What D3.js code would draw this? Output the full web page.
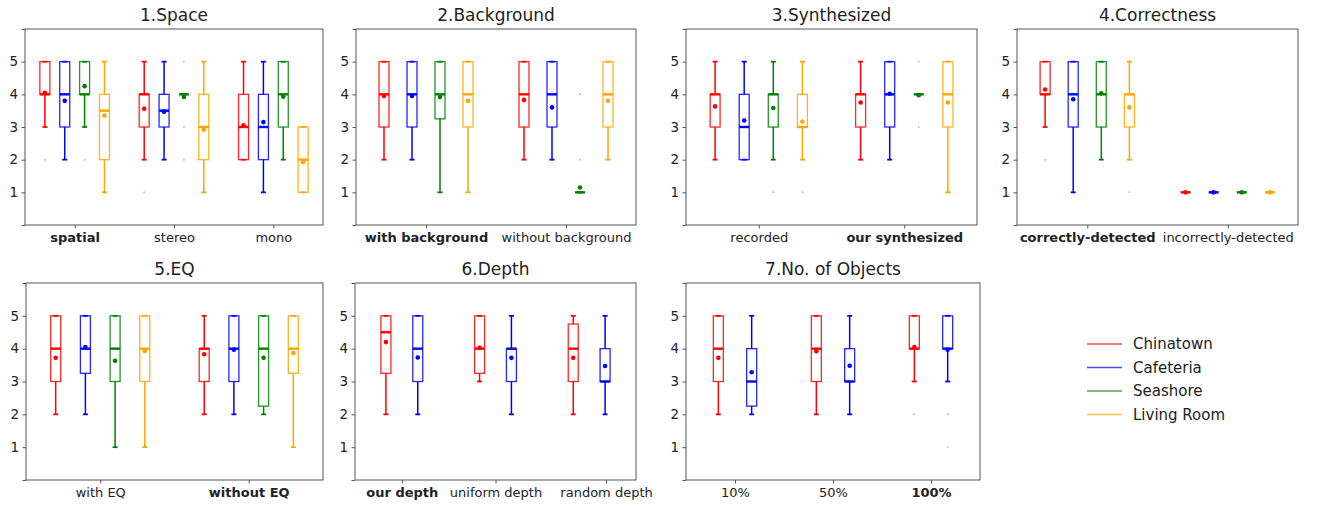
<!DOCTYPE html>
<html lang="en">
<head>
<meta charset="UTF-8">
<script src="https://d3js.org/d3.v7.min.js"></script>
<style>
  body { margin: 0; background: #fff; }
  svg { font-family: "DejaVu Sans", sans-serif; }
</style>
</head>
<body>
<svg id="chart" width="1323" height="506"></svg>
<script>
// series and colours
const seriesNames = ["Chinatown", "Cafeteria", "Seashore", "Living Room"];
const seriesColors = ["#ff0000", "#0000ff", "#008000", "#ffa500"];
const yTicks = [0, 1, 2, 3, 4, 5, 6];
const yTickLabels = ["", "1", "2", "3", "4", "5", ""];

// rows: [category, series, whiskerLow, q1, median, q3, whiskerHigh, mean, fliers]
const spaceCats = ["spatial", "stereo", "mono"];
const spaceStats = [
  [0, 0, 3, 4, 4, 5, 5, 4.05, [2]],
  [0, 1, 2, 3, 4, 5, 5, 3.8, []],
  [0, 2, 3, 4, 4, 5, 5, 4.25, [2]],
  [0, 3, 1, 2, 3.5, 4, 5, 3.35, []],
  [1, 0, 2, 3, 4, 4, 5, 3.56, [1]],
  [1, 1, 2, 3, 3.5, 4, 5, 3.47, []],
  [1, 2, 4, 4, 4, 4, 4, 3.92, [5, 3, 2]],
  [1, 3, 1, 2, 3, 4, 5, 2.92, []],
  [2, 0, 2, 2, 3, 4, 5, 3.05, []],
  [2, 1, 1, 2, 3, 4, 5, 3.15, []],
  [2, 2, 2, 3, 4, 5, 5, 3.93, []],
  [2, 3, 1, 1, 2, 3, 3, 1.93, []]
];

const backgroundCats = ["with background", "without background"];
const backgroundStats = [
  [0, 0, 2, 3, 4, 5, 5, 3.95, []],
  [0, 1, 2, 3, 4, 5, 5, 3.95, []],
  [0, 2, 1, 3.25, 4, 5, 5, 3.92, []],
  [0, 3, 1, 3, 4, 5, 5, 3.8, []],
  [1, 0, 2, 3, 4, 5, 5, 3.83, []],
  [1, 1, 2, 3, 4, 5, 5, 3.6, []],
  [1, 2, 1, 1, 1, 1, 1, 1.15, [2, 4]],
  [1, 3, 2, 3, 4, 5, 5, 3.8, []]
];

const synthCats = ["recorded", "our synthesized"];
const synthStats = [
  [0, 0, 2, 3, 4, 4, 5, 3.63, []],
  [0, 1, 2, 2, 3, 4, 5, 3.2, []],
  [0, 2, 2, 3, 4, 4, 5, 3.58, [1]],
  [0, 3, 2, 3, 3, 4, 5, 3.17, [1]],
  [1, 0, 2, 3, 4, 4, 5, 3.75, []],
  [1, 1, 2, 3, 4, 5, 5, 4.02, []],
  [1, 2, 4, 4, 4, 4, 4, 3.97, [5, 3]],
  [1, 3, 1, 3, 4, 5, 5, 3.75, []]
];

const correctCats = ["correctly-detected", "incorrectly-detected"];
const correctStats = [
  [0, 0, 3, 4, 4, 5, 5, 4.15, [2]],
  [0, 1, 1, 3, 4, 5, 5, 3.85, []],
  [0, 2, 2, 3, 4, 5, 5, 4.03, []],
  [0, 3, 2, 3, 4, 4, 5, 3.6, [1]],
  [1, 0, 1, 1, 1, 1, 1, 1, []],
  [1, 1, 1, 1, 1, 1, 1, 1, []],
  [1, 2, 1, 1, 1, 1, 1, 1, []],
  [1, 3, 1, 1, 1, 1, 1, 1, []]
];

const eqCats = ["with EQ", "without EQ"];
const eqStats = [
  [0, 0, 2, 3, 4, 5, 5, 3.72, []],
  [0, 1, 2, 3.25, 4, 5, 5, 4.05, []],
  [0, 2, 1, 3, 4, 5, 5, 3.63, []],
  [0, 3, 1, 3, 4, 5, 5, 3.93, []],
  [1, 0, 2, 3, 4, 4, 5, 3.83, []],
  [1, 1, 2, 3, 4, 5, 5, 3.97, []],
  [1, 2, 2, 2.25, 4, 5, 5, 3.72, []],
  [1, 3, 1, 3.25, 4, 5, 5, 3.87, []]
];

const depthCats = ["our depth", "uniform depth", "random depth"];
const depthTickPos = [1, 2, 3.18];
const depthStats = [
  [0, 0, 2, 3.25, 4.5, 5, 5, 4.2, []],
  [0, 1, 2, 3, 4, 5, 5, 3.73, []],
  [1, 0, 3, 3.25, 4, 5, 5, 4.03, []],
  [1, 1, 2, 3, 4, 4, 5, 3.72, []],
  [2, 0, 2, 3, 4, 4.75, 5, 3.72, []],
  [2, 1, 2, 3, 3, 4, 5, 3.47, []]
];

const objectsCats = ["10%", "50%", "100%"];
const objectsStats = [
  [0, 0, 2, 3, 4, 5, 5, 3.72, []],
  [0, 1, 2, 2.25, 3, 4, 5, 3.28, []],
  [1, 0, 2, 3, 4, 5, 5, 3.92, []],
  [1, 1, 2, 3, 3, 4, 5, 3.48, []],
  [2, 0, 3, 4, 4, 5, 5, 4.05, [2]],
  [2, 1, 3, 4, 4, 5, 5, 3.97, [2, 1]]
];

// panel layout
const panels = [
  { title: "1.Space", cats: spaceCats, stats: spaceStats, bold: "spatial", x0: 25, x1: 323, y0: 29, y1: 225 },
  { title: "2.Background", cats: backgroundCats, stats: backgroundStats, bold: "with background", x0: 356, x1: 636, y0: 29, y1: 225 },
  { title: "3.Synthesized", cats: synthCats, stats: synthStats, bold: "our synthesized", x0: 686, x1: 977, y0: 29, y1: 225 },
  { title: "4.Correctness", cats: correctCats, stats: correctStats, bold: "correctly-detected", x0: 1017, x1: 1298, y0: 29, y1: 225 },
  { title: "5.EQ", cats: eqCats, stats: eqStats, bold: "without EQ", x0: 26, x1: 323, y0: 283, y1: 480 },
  { title: "6.Depth", cats: depthCats, stats: depthStats, bold: "our depth", ticks: depthTickPos, x0: 355, x1: 636, y0: 283, y1: 480 },
  { title: "7.No. of Objects", cats: objectsCats, stats: objectsStats, bold: "100%", x0: 686, x1: 980, y0: 283, y1: 480 }
];

const svg = d3.select("#chart");
const boxW = 10;
const capW = 5;
const axisColor = "#555";
const textColor = "#222";

panels.forEach(p => {
  const n = p.cats.length;
  const nSeries = d3.max(p.stats, d => d[1]) + 1;
  const offsets = nSeries === 4 ? [-0.3, -0.1, 0.1, 0.3] : [-0.17, 0.17];
  const x = d3.scaleLinear().domain([0.5, n + 0.5]).range([p.x0, p.x1]);
  const y = d3.scaleLinear().domain([0, 6]).range([p.y1, p.y0]);
  const tickPos = p.ticks || p.cats.map((c, i) => i + 1);

  const g = svg.append("g");

  // frame
  g.append("rect")
    .attr("x", p.x0).attr("y", p.y0)
    .attr("width", p.x1 - p.x0).attr("height", p.y1 - p.y0)
    .attr("fill", "none").attr("stroke", axisColor).attr("stroke-width", 1);

  // y axis
  const yAxis = g.append("g")
    .attr("transform", `translate(${p.x0},0)`)
    .call(d3.axisLeft(y).tickValues(yTicks).tickSize(3.5).tickPadding(3.5)
      .tickFormat((d, i) => yTickLabels[i]));
  yAxis.select(".domain").remove();
  yAxis.selectAll("line").attr("stroke", axisColor);
  yAxis.selectAll("text").attr("font-size", 13.5).attr("fill", textColor)
    .attr("font-family", "DejaVu Sans");

  // x axis
  const xAxis = g.append("g")
    .attr("transform", `translate(0,${p.y1})`)
    .call(d3.axisBottom(x).tickValues(tickPos).tickSize(3.5).tickPadding(4)
      .tickFormat((d, i) => p.cats[i]));
  xAxis.select(".domain").remove();
  xAxis.selectAll("line").attr("stroke", axisColor);
  xAxis.selectAll("text").attr("font-size", 13).attr("fill", textColor)
    .attr("font-family", "DejaVu Sans")
    .attr("font-weight", (d, i) => p.cats[i] === p.bold ? "bold" : "normal");

  // title
  g.append("text")
    .attr("x", (p.x0 + p.x1) / 2).attr("y", p.y0 - 8)
    .attr("text-anchor", "middle")
    .attr("font-size", 17).attr("fill", textColor)
    .text(p.title);

  // boxes
  const boxes = g.selectAll(".box").data(p.stats).enter().append("g").attr("class", "box");
  const cx = d => x(d[0] + 1 + offsets[d[1]]);
  const col = d => seriesColors[d[1]];

  boxes.append("line")
    .attr("x1", cx).attr("x2", cx)
    .attr("y1", d => y(d[2])).attr("y2", d => y(d[3]))
    .attr("stroke", col).attr("stroke-width", 1.5);
  boxes.append("line")
    .attr("x1", cx).attr("x2", cx)
    .attr("y1", d => y(d[5])).attr("y2", d => y(d[6]))
    .attr("stroke", col).attr("stroke-width", 1.5);
  [2, 6].forEach(k => {
    boxes.append("line")
      .attr("x1", d => cx(d) - capW / 2).attr("x2", d => cx(d) + capW / 2)
      .attr("y1", d => y(d[k])).attr("y2", d => y(d[k]))
      .attr("stroke", col).attr("stroke-width", 1.8);
  });
  boxes.append("rect")
    .attr("x", d => cx(d) - boxW / 2).attr("width", boxW)
    .attr("y", d => y(d[5])).attr("height", d => y(d[3]) - y(d[5]))
    .attr("fill", "none").attr("stroke", col).attr("stroke-width", 1.3)
    .attr("stroke-opacity", 0.85);
  boxes.append("line")
    .attr("x1", d => cx(d) - boxW / 2).attr("x2", d => cx(d) + boxW / 2)
    .attr("y1", d => y(d[4])).attr("y2", d => y(d[4]))
    .attr("stroke", col).attr("stroke-width", 2.4);
  boxes.append("circle")
    .attr("cx", cx).attr("cy", d => y(d[7])).attr("r", 2.3)
    .attr("fill", col);
  boxes.selectAll(".flier").data(d => d[8].map(v => [cx(d), v, col(d)])).enter()
    .append("circle").attr("class", "flier")
    .attr("cx", d => d[0]).attr("cy", d => y(d[1])).attr("r", 1)
    .attr("fill", "#999").attr("opacity", 0.6);
});

// legend
const legend = svg.append("g").attr("transform", "translate(1087,344)");
seriesNames.forEach((name, i) => {
  const row = legend.append("g").attr("transform", `translate(0,${i * 23.5})`);
  row.append("line").attr("x1", 0).attr("x2", 35).attr("y1", 0).attr("y2", 0)
    .attr("stroke", seriesColors[i]).attr("stroke-width", 1.5).attr("stroke-opacity", 0.7);
  row.append("text").attr("x", 46).attr("y", 0).attr("dy", "0.35em")
    .attr("font-size", 15).attr("fill", textColor).text(name);
});
</script>
</body>
</html>
